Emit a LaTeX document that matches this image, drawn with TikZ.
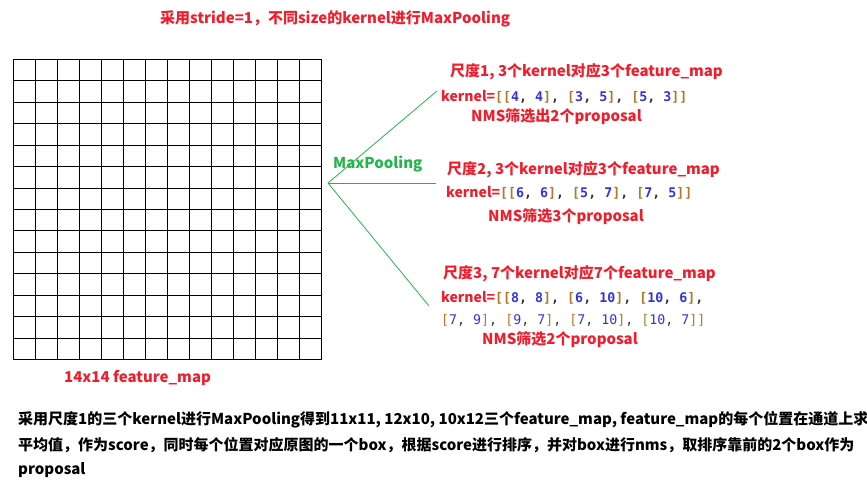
\documentclass[tikz,border=0pt]{standalone}
\usepackage{fontspec}
\setmainfont{Noto Sans CJK SC}
\newfontfamily\codefont{DejaVu Sans Mono}
\usepackage{xcolor}
\usetikzlibrary{positioning}
\definecolor{txtred}{RGB}{240,30,45}
\definecolor{poolgreen}{RGB}{35,180,75}
\definecolor{brk}{RGB}{176,122,40}
\definecolor{num}{RGB}{50,50,225}
\definecolor{cma}{RGB}{50,50,50}
\newcommand{\kv}[2]{\textcolor{brk}{[}\textcolor{num}{#1}\textcolor{cma}{,} \textcolor{num}{#2}\textcolor{brk}{]}}
\newcommand{\kc}{\textcolor{cma}{,} }
\newcommand{\kl}{\textcolor{brk}{[}}
\newcommand{\kr}{\textcolor{brk}{]}}
\newcommand{\codesize}{\codefont\fontsize{13.3}{16}\selectfont}

\begin{document}
\begin{tikzpicture}[
  x=1pt,y=-1pt,
  redtext/.style={anchor=west,inner sep=0pt,text=txtred,font=\bfseries\fontsize{15}{18}\selectfont},
  kerneltext/.style={redtext,font=\bfseries\fontsize{14}{16}\selectfont},
  codeline/.style={anchor=west,inner sep=0pt,font=\codesize},
  bodytext/.style={anchor=west,inner sep=0pt,font=\bfseries\fontsize{15}{18}\selectfont},
  poolline/.style={poolgreen,line width=0.8pt},
  every node/.style={font=\small}
]
  \useasboundingbox (0,0) rectangle (867,492);

  \node[redtext] (title) at (160,19)
    {采用stride=1，不同size的kernel进行MaxPooling};

  % 14x14 feature map
  \foreach \i in {0,...,14} {
    \draw[line width=1pt] (13.5+22*\i,59.5) -- ++(0,300);
    \draw[line width=1pt] (13.5,59.5+300/14*\i) -- ++(308,0);
  }
  \node[redtext] (fmlabel) at (64,378) {14x14 feature\_map};

  \coordinate (pool) at (328,183);
  \coordinate (up) at (437,91);
  \coordinate (mid) at (436,183);
  \coordinate (low) at (429,306);
  \draw[poolline] (pool) -- (up);
  \draw[poolline] (pool) -- (mid);
  \draw[poolline] (pool) -- (low);
  \node[redtext,text=poolgreen] (pooltext) at (333,164) {MaxPooling};

  \node[redtext] (s1title) at (450,72) {尺度1, 3个kernel对应3个feature\_map};
  \node[kerneltext] (s1kernel) at (441,97)
    {kernel={\codesize\kl\kv{4}{4}\kc\kv{3}{5}\kc\kv{5}{3}\kr}};
  \node[redtext] (s1nms) at (471,117) {NMS筛选出2个proposal};

  \node[redtext] (s2title) at (447,170) {尺度2, 3个kernel对应3个feature\_map};
  \node[kerneltext] (s2kernel) at (446,193)
    {kernel={\codesize\kl\kv{6}{6}\kc\kv{5}{7}\kc\kv{7}{5}\kr}};
  \node[redtext] (s2nms) at (488,217) {NMS筛选3个proposal};

  \node[redtext] (s3title) at (443,274) {尺度3, 7个kernel对应7个feature\_map};
  \node[kerneltext] (s3kernel) at (441,298)
    {kernel={\codesize\kl\kv{8}{8}\kc\kv{6}{10}\kc\kv{10}{6}\textcolor{cma}{,}}};
  \node[codeline] (s3kernelb) at (441,320)
    {\kv{7}{9}\kc\kv{9}{7}\kc\kv{7}{10}\kc\kv{10}{7}\kr};
  \node[redtext] (s3nms) at (482,340) {NMS筛选2个proposal};

  \node[bodytext] (note1) at (18,420)
    {采用尺度1的三个kernel进行MaxPooling得到11x11, 12x10, 10x12三个feature\_map, feature\_map的每个位置在通道上求};
  \node[bodytext] (note2) at (18,445)
    {平均值，作为score，同时每个位置对应原图的一个box，根据score进行排序，并对box进行nms，取排序靠前的2个box作为};
  \node[bodytext] (note3) at (18,470) {proposal};
\end{tikzpicture}
\end{document}
